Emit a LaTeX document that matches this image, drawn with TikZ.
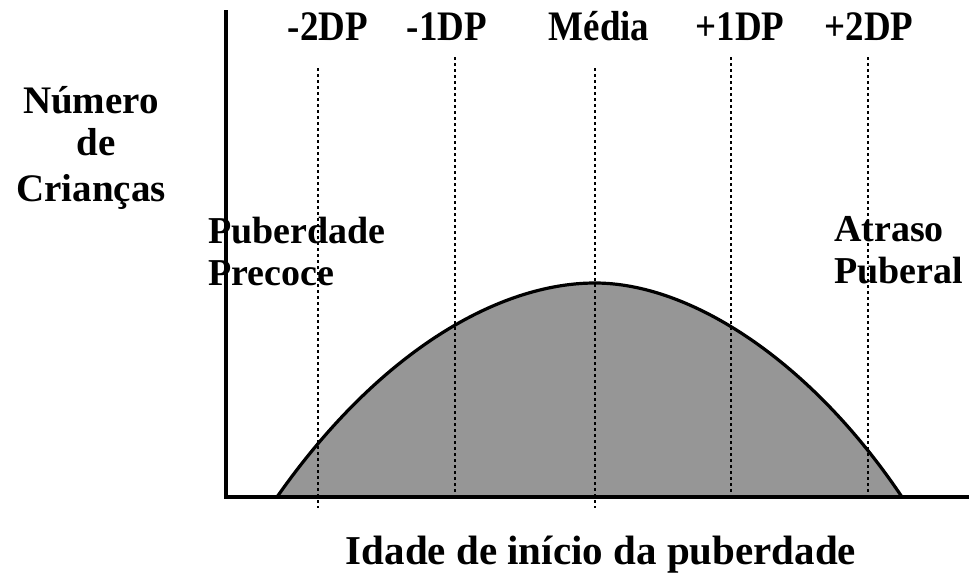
\documentclass[tikz,border=0pt]{standalone}
\usepackage{fontspec}
\setmainfont{Liberation Serif}
\newfontfamily\condfont[FakeStretch=0.88]{Liberation Serif}
\begin{document}
\begin{tikzpicture}[x=1pt,y=-1pt,
  lbl/.style={inner sep=0pt,anchor=base,font=\bfseries\fontsize{39}{44}\selectfont},
  toplbl/.style={inner sep=0pt,anchor=base,font=\condfont\bfseries\fontsize{42}{46}\selectfont},
  sidelbl/.style={inner sep=0pt,anchor=base west,font=\bfseries\fontsize{38}{42}\selectfont},
  axisline/.style={line width=3.4pt},
  sdline/.style={line width=2.8pt,dash pattern=on 3pt off 3pt},
  curveline/.style={line width=3.2pt,line join=round}]
\useasboundingbox (0,0) rectangle (969,573);
% labels
\node[lbl] (yA) at (91,113) {Número};
\node[lbl] (yB) at (96,155) {de};
\node[lbl] (yC) at (91,201) {Crianças};
\node[toplbl] (m2) at (328,40) {-2DP};
\node[toplbl] (m1) at (447,40) {-1DP};
\node[toplbl] (me) at (599,40) {Média};
\node[toplbl] (p1) at (740,40) {+1DP};
\node[toplbl] (p2) at (869,40) {+2DP};
\node[sidelbl] (pubA) at (208,243) {Puberdade};
\node[sidelbl] (pubB) at (208,285) {Precoce};
\node[sidelbl] (atrA) at (834,241) {Atraso};
\node[sidelbl] (atrB) at (834,283) {Puberal};
\node[lbl,font=\bfseries\fontsize{41}{46}\selectfont] (xl) at (601,564) {Idade de início da puberdade};
% filled distribution
\fill[fill={rgb,255:red,150;green,150;blue,150}]
  (277,497) .. controls (380,350) and (500,283) .. (595,283)
  .. controls (690,283) and (810,360) .. (902,497) -- cycle;
% SD lines
\draw[sdline] (318,68) -- (318,508);
\draw[sdline] (455,57) -- (455,497);
\draw[sdline] (595,68) -- (595,508);
\draw[sdline] (731,57) -- (731,497);
\draw[sdline] (868,57) -- (868,497);
% curve outline
\draw[curveline]
  (277,497) .. controls (380,350) and (500,283) .. (595,283)
  .. controls (690,283) and (810,360) .. (902,497);
% axes
\draw[axisline] (226,10) -- (226,497) -- (969,497);
\end{tikzpicture}
\end{document}
